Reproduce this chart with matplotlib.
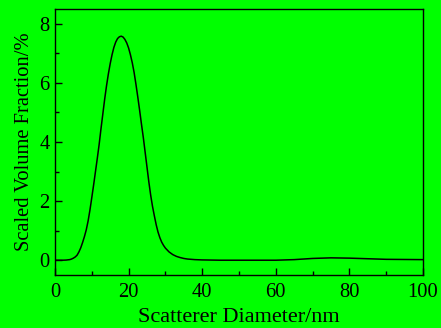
import numpy as np
import matplotlib
matplotlib.use('Agg')
import matplotlib.pyplot as plt
from matplotlib.ticker import MultipleLocator

plt.rcParams['font.family'] = ['Liberation Serif', 'DejaVu Serif']

# 粒径分布
diameter = [0, 1, 2, 3, 4, 4.5, 5, 5.5, 6, 6.5, 7, 7.5, 8, 8.5, 9, 9.5, 10,
            10.5, 11, 11.5, 12, 12.5, 13, 13.5, 14, 14.5, 15, 15.5, 16, 16.5,
            17, 17.5, 18, 18.5, 19, 19.5, 20, 20.5, 21, 21.5, 22, 22.5, 23,
            23.5, 24, 24.5, 25, 25.5, 26, 26.5, 27, 27.5, 28, 28.5, 29, 29.5,
            30, 31, 32, 33, 34, 35, 36, 38, 40, 45, 50, 55, 60, 65, 70, 75,
            80, 85, 90, 95, 100]
volume_frac = [0.0, 0.0, 0.0, 0.005, 0.02, 0.04, 0.07, 0.11, 0.17, 0.28, 0.42,
               0.6, 0.8, 1.03, 1.33, 1.7, 2.12, 2.55, 3.0, 3.45, 3.92, 4.45,
               4.95, 5.45, 5.9, 6.3, 6.65, 6.95, 7.2, 7.38, 7.5, 7.56, 7.58,
               7.55, 7.47, 7.35, 7.18, 6.95, 6.68, 6.35, 5.95, 5.52, 5.07, 4.6,
               4.15, 3.65, 3.15, 2.65, 2.2, 1.82, 1.5, 1.2, 0.95, 0.76, 0.61,
               0.5, 0.41, 0.28, 0.19, 0.13, 0.09, 0.06, 0.04, 0.02, 0.01, 0.0,
               0.0, 0.0, 0.0, 0.02, 0.06, 0.08, 0.07, 0.05, 0.03, 0.025, 0.02]

bg = '#00ff00'
fig = plt.figure(figsize=(4.41, 3.28), dpi=100, facecolor=bg)
ax = fig.add_axes([0.1247, 0.1616, 0.8345, 0.811])
ax.set_facecolor(bg)

ax.plot(diameter, volume_frac, color='black', linewidth=1.1)

ax.set_xlim(0, 100)
ax.set_ylim(-0.5, 8.5)
ax.xaxis.set_major_locator(MultipleLocator(20))
ax.xaxis.set_minor_locator(MultipleLocator(10))
ax.yaxis.set_major_locator(MultipleLocator(2))
ax.yaxis.set_minor_locator(MultipleLocator(1))
ax.tick_params(which='both', direction='in', top=False, right=False,
               labelsize=14.8, width=1.0)
ax.tick_params(axis='x', pad=6)
ax.tick_params(axis='y', pad=4)
ax.tick_params(which='major', length=5)
ax.tick_params(which='minor', length=3)
for s in ax.spines.values():
    s.set_linewidth(1.0)

ax.set_xlabel('Scatterer Diameter/nm', fontsize=16, labelpad=4)
ax.set_ylabel('Scaled Volume Fraction/%', fontsize=14.8, labelpad=4)

fig.savefig('out.png', dpi=100, facecolor=bg)
